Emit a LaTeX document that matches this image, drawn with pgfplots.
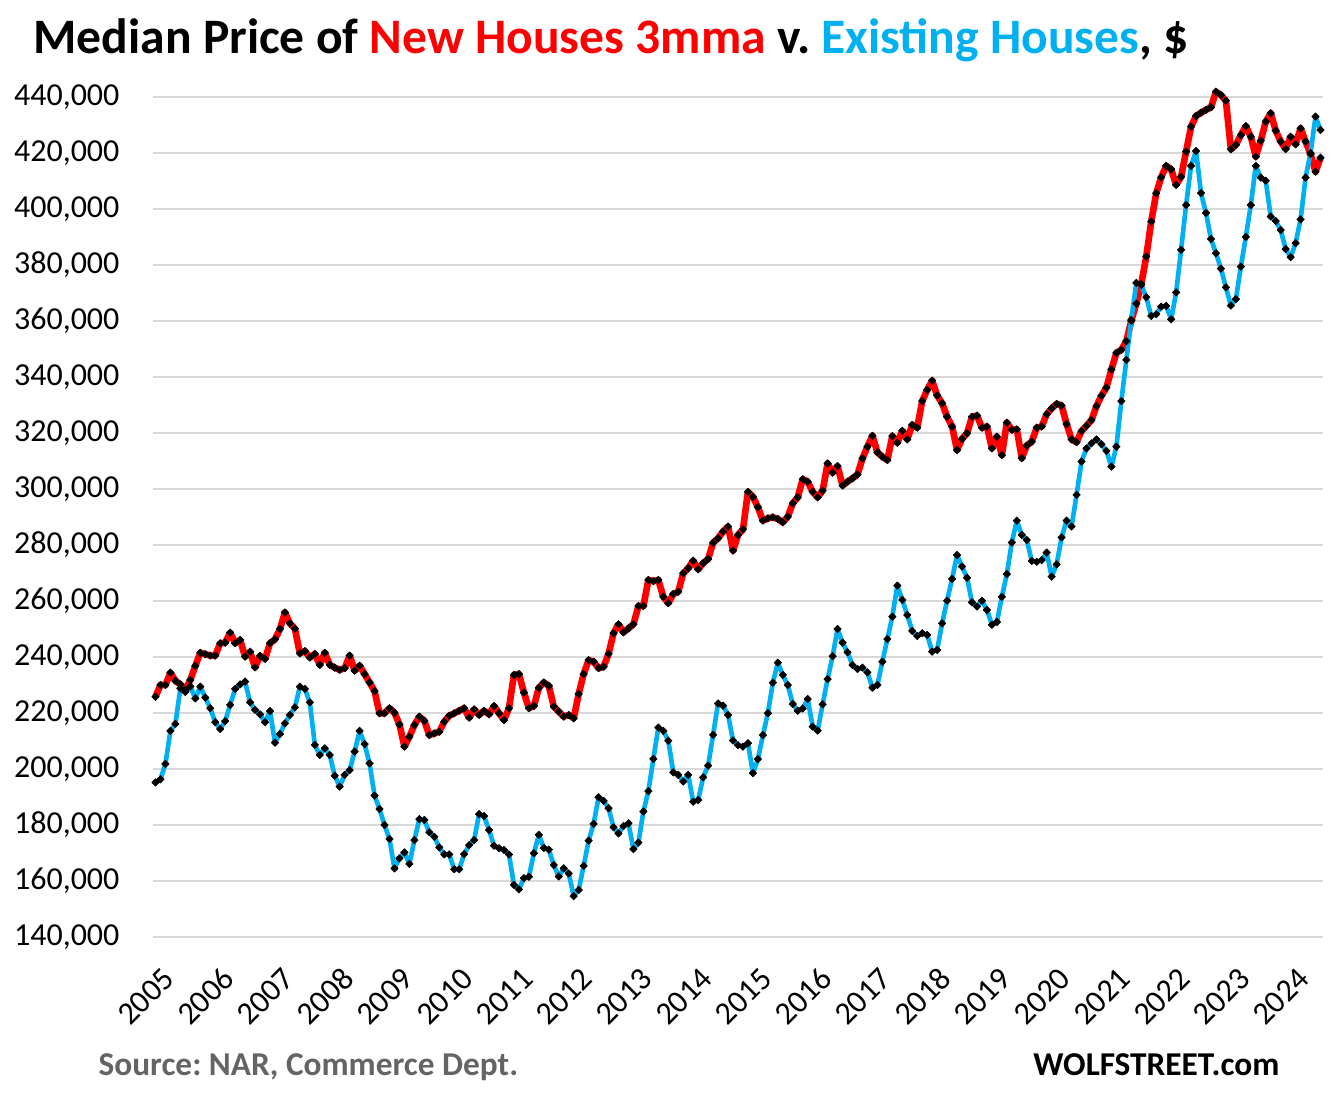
\documentclass[border=0pt]{standalone}
\usepackage{fontspec}
\setmainfont{Carlito}
\usepackage{pgfplots}
\usepackage{pgfplotstable}
\pgfplotsset{compat=1.18}
\frenchspacing
\definecolor{nred}{RGB}{255,0,0}
\definecolor{eblue}{RGB}{0,176,240}
\definecolor{gridc}{RGB}{217,217,217}
\definecolor{srcgray}{RGB}{100,100,100}
\pgfplotstableread{
i red blue
0 225.8 195.2
1 230.0 196.3
2 230.0 201.8
3 234.4 213.6
4 231.5 216.1
5 230.2 228.8
6 228.2 227.5
7 231.8 229.5
8 236.8 225.2
9 241.5 229.4
10 241.0 225.5
11 240.5 221.7
12 240.5 216.7
13 244.9 214.3
14 245.1 217.1
15 248.7 222.9
16 244.9 228.6
17 246.1 230.2
18 240.1 231.2
19 241.9 223.8
20 236.3 221.1
21 240.4 219.5
22 239.3 216.7
23 244.9 220.7
24 246.3 209.4
25 250.0 212.5
26 255.9 216.3
27 252.0 219.3
28 250.1 222.0
29 241.3 229.4
30 242.1 228.6
31 239.8 223.8
32 241.1 208.6
33 237.2 205.0
34 241.5 207.4
35 237.2 205.0
36 236.2 197.6
37 235.4 193.7
38 236.0 197.9
39 240.5 199.6
40 235.1 206.2
41 236.9 213.6
42 233.9 208.9
43 230.9 202.0
44 227.8 190.5
45 219.9 185.7
46 219.9 180.0
47 221.7 175.0
48 220.1 164.5
49 215.9 168.1
50 208.0 170.2
51 211.5 166.1
52 215.7 174.6
53 218.7 182.1
54 217.2 181.8
55 212.1 177.4
56 212.7 175.8
57 213.3 172.0
58 216.9 169.5
59 219.0 169.5
60 219.9 164.2
61 220.8 164.2
62 221.7 169.6
63 218.3 172.8
64 221.3 174.6
65 219.3 183.9
66 220.8 183.2
67 219.5 178.2
68 222.5 172.6
69 219.9 171.7
70 217.5 171.1
71 221.7 169.5
72 233.6 158.6
73 233.9 157.0
74 227.3 161.0
75 221.7 161.5
76 222.5 169.9
77 229.0 176.5
78 230.9 171.8
79 229.7 171.2
80 222.3 165.7
81 220.5 161.6
82 218.7 164.5
83 219.3 162.7
84 218.1 154.6
85 226.8 156.8
86 233.9 165.4
87 238.9 174.4
88 238.3 180.4
89 236.0 189.9
90 236.5 188.6
91 241.1 186.0
92 248.5 179.2
93 251.7 177.0
94 248.8 179.6
95 250.2 180.6
96 251.7 171.4
97 258.2 173.7
98 258.2 184.8
99 267.5 192.1
100 267.1 203.6
101 267.5 214.8
102 261.5 213.6
103 259.2 210.1
104 262.5 198.8
105 263.3 197.9
106 269.9 195.5
107 271.7 197.9
108 274.4 188.3
109 271.3 188.9
110 273.5 197.0
111 275.0 201.2
112 280.8 212.2
113 282.4 223.4
114 284.8 222.6
115 286.6 219.3
116 278.0 210.2
117 283.6 208.5
118 285.6 208.0
119 299.0 209.2
120 297.2 198.5
121 293.5 203.5
122 288.7 212.1
123 289.5 219.9
124 289.9 230.8
125 289.3 238.0
126 288.1 233.6
127 290.1 230.0
128 294.9 223.2
129 297.0 220.8
130 303.5 221.6
131 302.6 225.0
132 299.0 215.1
133 297.0 213.7
134 299.4 223.1
135 309.1 232.1
136 305.8 240.3
137 308.2 250.0
138 301.2 245.1
139 302.6 241.7
140 303.8 237.1
141 305.2 235.7
142 310.9 236.2
143 315.1 234.5
144 319.0 229.0
145 313.1 230.0
146 311.5 238.3
147 310.3 246.4
148 318.9 254.4
149 316.5 265.5
150 320.8 260.4
151 317.7 255.0
152 322.9 249.3
153 321.9 247.5
154 331.4 248.5
155 335.4 247.9
156 338.7 241.9
157 333.4 242.5
158 330.6 252.0
159 325.8 260.1
160 322.3 267.9
161 313.9 276.4
162 317.9 272.3
163 319.9 268.3
164 325.8 259.5
165 326.2 258.0
166 321.9 260.1
167 322.3 256.8
168 314.5 251.5
169 318.7 252.5
170 312.1 261.5
171 323.7 269.6
172 321.1 280.9
173 321.3 288.7
174 311.0 283.6
175 315.5 281.8
176 316.9 274.3
177 321.9 274.0
178 322.3 274.6
179 326.7 277.3
180 328.8 268.7
181 330.4 273.1
182 329.8 282.7
183 323.2 288.7
184 317.7 286.6
185 316.7 297.9
186 320.7 309.8
187 322.6 314.5
188 324.6 316.3
189 329.6 317.7
190 333.3 316.0
191 336.2 313.6
192 342.7 308.0
193 348.6 315.1
194 349.7 331.4
195 352.8 346.1
196 360.1 360.4
197 366.2 373.6
198 373.2 372.9
199 383.0 368.5
200 395.5 361.8
201 405.6 362.4
202 411.3 365.1
203 415.4 365.4
204 414.2 360.6
205 408.6 370.2
206 411.5 385.4
207 420.5 401.4
208 429.4 415.4
209 433.2 420.7
210 434.4 405.7
211 435.4 398.6
212 436.3 389.3
213 441.9 384.2
214 440.7 378.7
215 438.7 372.0
216 421.3 365.5
217 422.9 367.8
218 426.4 379.4
219 429.6 390.0
220 425.8 401.4
221 418.7 415.4
222 424.4 411.2
223 431.2 410.1
224 434.2 397.3
225 428.0 395.7
226 424.1 392.5
227 421.4 385.7
228 425.8 382.8
229 423.1 387.8
230 428.8 396.3
231 424.1 411.2
232 419.6 420.0
233 413.3 433.0
234 418.3 428.2
}\datatable
\begin{document}
\begin{tikzpicture}
\useasboundingbox (-57.375pt,-62.625pt) rectangle (442.5pt,351.375pt);
\begin{axis}[
  at={(0,0)}, anchor=south west,
  scale only axis, width=438.75pt, height=320.25pt,
  xmin=-0.5, xmax=234.5, ymin=140, ymax=445,
  clip=false,
  axis line style={draw=none},
  major tick length=0pt,
  ymajorgrids, grid style={gridc, line width=0.75pt},
  ytick={140,160,...,440},
  yticklabels={{140,000},{160,000},{180,000},{200,000},{220,000},{240,000},{260,000},{280,000},{300,000},{320,000},{340,000},{360,000},{380,000},{400,000},{420,000},{440,000}},
  xtick={0,12,...,228},
  xticklabels={2005,2006,2007,2008,2009,2010,2011,2012,2013,2014,2015,2016,2017,2018,2019,2020,2021,2022,2023,2024},
  ticklabel style={font=\fontsize{12}{14}\selectfont, inner sep=0pt},
  yticklabel style={anchor=east, xshift=-12.4pt},
  xticklabel style={xshift=5.2pt, yshift=-13.5pt, rotate=45, anchor=east},
]
\addplot[nred, line width=2.5pt, line join=round, mark=square*, mark size=1.0pt,
  mark options={rotate=45, fill=black, draw=black, line width=0.2pt}]
  table[x=i, y=red]{\datatable};
\addplot[eblue, line width=1.75pt, line join=round, mark=square*, mark size=1.0pt,
  mark options={rotate=45, fill=black, draw=black, line width=0.2pt}]
  table[x=i, y=blue]{\datatable};
\end{axis}
\node[anchor=base west, inner sep=0pt, font=\fontsize{18.6}{22}\selectfont\bfseries] at (-45pt,331.4pt)
  {Median Price of \textcolor{nred}{New Houses 3mma} v. \textcolor{eblue}{Existing Houses}, \$};
\node[anchor=base west, inner sep=0pt, text=srcgray, font=\fontsize{12.5}{15}\selectfont\bfseries] at (-20.6pt,-52.1pt)
  {Source: NAR, Commerce Dept.};
\node[anchor=base east, inner sep=0pt, font=\fontsize{12.5}{15}\selectfont\bfseries] at (422.6pt,-52.1pt)
  {WOLFSTREET.com};
\end{tikzpicture}
\end{document}
